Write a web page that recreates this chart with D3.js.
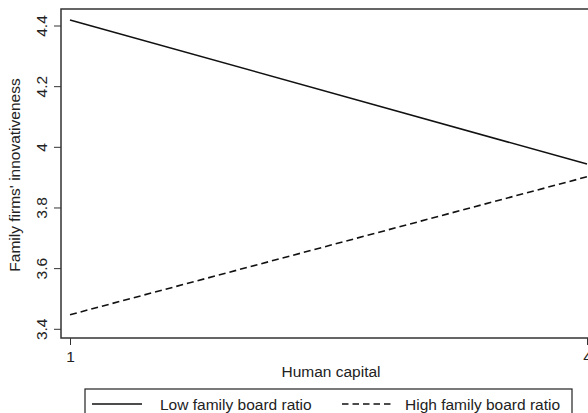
<!DOCTYPE html>
<html>
<head>
<meta charset="utf-8">
<script src="https://cdn.jsdelivr.net/npm/d3@7"></script>
<style>
body { margin:0; background:#fff; }
svg { display:block; font-family:"Liberation Sans", Arial, sans-serif; }
</style>
</head>
<body>
<svg width="588" height="413"></svg>
<script>
const humanCapital = [1, 4]
const lowRatio = [4.42, 3.945]
const highRatio = [3.448, 3.903]
const yTicks = [3.4, 3.6, 3.8, 4, 4.2, 4.4]
const xTicks = [1, 4]
const seriesNames = ["Low family board ratio", "High family board ratio"]

const svg = d3.select("svg")
const W = 588, H = 413
const fs = 15.5

const x = d3.scaleLinear().domain([1,4]).range([70,587])
const y = d3.scaleLinear().domain([3.4,4.4]).range([329.3,26])

const frame = {left:61, top:9, right:597, bottom:338}

svg.append("rect").attr("width",W).attr("height",H).attr("fill","#fff")

svg.append("rect")
    .attr("x",frame.left).attr("y",frame.top)
    .attr("width",frame.right-frame.left).attr("height",frame.bottom-frame.top)
    .attr("fill","none").attr("stroke","#333").attr("stroke-width",1.5)

// y axis
const yAxis = svg.append("g")
    .attr("transform",`translate(${frame.left},0)`)
    .call(d3.axisLeft(y).tickValues(yTicks).tickSize(7).tickFormat(d3.format("~g")))
yAxis.select(".domain").remove()
yAxis.selectAll("line").attr("stroke","#333").attr("stroke-width",1)
yAxis.selectAll("text")
    .attr("x",null).attr("dy",null)
    .attr("transform",d=>`translate(-14,${y(d)}) rotate(-90)`)
    .attr("y",0)
    .attr("text-anchor","middle")
    .attr("fill","#222")
    .style("font-size",fs+"px")
    .style("font-family","Liberation Sans, Arial, sans-serif")
yAxis.selectAll(".tick").attr("transform","translate(0,0)")
yAxis.selectAll(".tick line").attr("y1",d=>y(d)).attr("y2",d=>y(d))

// x axis
const xAxis = svg.append("g")
    .attr("transform",`translate(0,${frame.bottom})`)
    .call(d3.axisBottom(x).tickValues(xTicks).tickSize(7).tickFormat(d3.format("d")))
xAxis.select(".domain").remove()
xAxis.selectAll("line").attr("stroke","#333").attr("stroke-width",1)
xAxis.selectAll("text")
    .attr("y",13).attr("dy","0.71em")
    .attr("fill","#222")
    .style("font-size",fs+"px")
    .style("font-family","Liberation Sans, Arial, sans-serif")

svg.append("text")
    .attr("x",331).attr("y",377)
    .attr("text-anchor","middle").attr("fill","#222")
    .style("font-size",fs+"px")
    .text("Human capital")

svg.append("text")
    .attr("transform","translate(20,175) rotate(-90)")
    .attr("text-anchor","middle").attr("fill","#222")
    .style("font-size",fs+"px")
    .text("Family firms' innovativeness")

const line = d3.line().x(d=>x(d[0])).y(d=>y(d[1]))

svg.append("path")
    .datum(humanCapital.map((h,i)=>[h,lowRatio[i]]))
    .attr("d",line).attr("fill","none")
    .attr("stroke","#111").attr("stroke-width",1.6)

svg.append("path")
    .datum(humanCapital.map((h,i)=>[h,highRatio[i]]))
    .attr("d",line).attr("fill","none")
    .attr("stroke","#111").attr("stroke-width",1.6)
    .attr("stroke-dasharray","7,4")

// legend
const leg = svg.append("g")
leg.append("rect")
    .attr("x",85).attr("y",389).attr("width",487).attr("height",40)
    .attr("fill","#fff").attr("stroke","#222").attr("stroke-width",1.2)

const legItems = [
    {name:seriesNames[0], x1:92, x2:142, tx:160, dash:null},
    {name:seriesNames[1], x1:342, x2:392, tx:405, dash:"6.5,4"}
]
legItems.forEach(d=>{
    leg.append("line")
        .attr("x1",d.x1).attr("x2",d.x2).attr("y1",404).attr("y2",404)
        .attr("stroke","#111").attr("stroke-width",1.6)
        .attr("stroke-dasharray",d.dash)
    leg.append("text")
        .attr("x",d.tx).attr("y",410)
        .attr("fill","#222")
        .style("font-size",fs+"px")
        .text(d.name)
})
</script>
</body>
</html>
